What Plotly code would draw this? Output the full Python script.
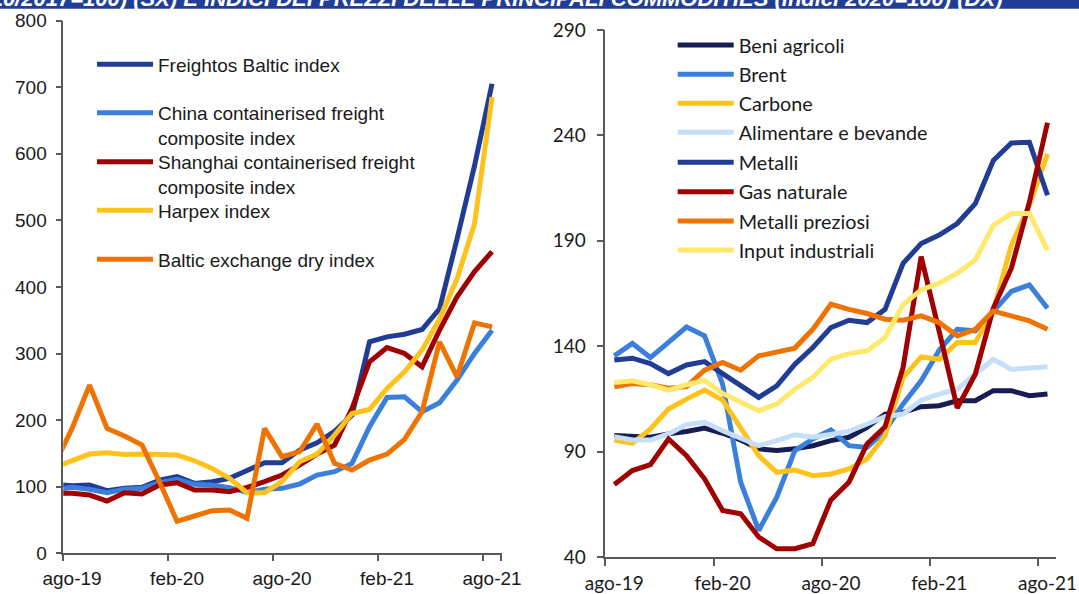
import plotly.graph_objects as go

W, H = 1079, 594

# ---------------- data (left: freight indices, right: commodity price indices)
months_sx = ["lug-19", "ago-19", "set-19", "ott-19", "nov-19", "dic-19", "gen-20", "feb-20", "mar-20",
             "apr-20", "mag-20", "giu-20", "lug-20", "ago-20", "set-20", "ott-20", "nov-20", "dic-20",
             "gen-21", "feb-21", "mar-21", "apr-21", "mag-21", "giu-21", "lug-21", "ago-21"]
months_dx = months_sx[1:]
tick_labels = ["ago-19", "feb-20", "ago-20", "feb-21", "ago-21"]

freightos = [103.5, 101.5, 102.5, 94, 97.5, 99, 110, 115, 105, 107.5, 112.5, 125, 136, 136, 155, 166,
             183, 207.5, 317.5, 325, 329, 336, 367, 472, 582, 705]
china = [96, 99, 96, 91, 96, 97.5, 106, 111, 103.5, 102.5, 98.5, 91.5, 96, 97.5, 104, 117.5, 122.5,
         135, 190, 234, 235, 212.5, 226, 260, 300, 335]
shanghai = [90, 90, 87.5, 78.5, 91, 89, 102.5, 106, 95, 95, 92.5, 99, 107.5, 117.5, 132.5, 149, 162.5,
            217.5, 287.5, 309, 300, 280, 335, 385, 423, 453]
harpex = [129, 139, 149, 151, 148.5, 149, 148.5, 147.5, 139, 127.5, 112.5, 91, 91, 107.5, 137.5, 149,
          177.5, 210, 216, 247.5, 272.5, 305, 352, 412, 495, 685]
baltic = [133, 187.5, 252.5, 187.5, 176, 162.5, 107, 48, 56, 64, 65, 52.5, 187.5, 145, 152.5, 194,
          135, 125, 140, 149, 171, 212.5, 317.5, 265, 346, 340]

beni = [97.6, 97.1, 96.8, 98.4, 99.5, 101.2, 98.7, 95.5, 91.3, 90.5, 91.3, 92.8, 95.2, 96.8, 101.5,
        107.8, 108.6, 111.3, 111.8, 114.1, 114.1, 118.9, 118.9, 116.5, 117.3]
brent = [135.4, 141.3, 134.6, 141.7, 149.1, 144.9, 122, 75.5, 52.6, 68.4, 90.5, 96, 100.3, 92.8, 92,
         99.9, 112.6, 123.6, 138.1, 148, 147.3, 156.5, 166, 169.1, 158]
carbone = [95.5, 93.9, 100.7, 110.2, 114.9, 119.2, 114.4, 101.5, 88.1, 80.2, 81.3, 78.6, 79.4, 81.8,
           86.5, 97.6, 125.2, 134.9, 133.8, 141.7, 141.7, 157, 188, 206.8, 231.2]
alimentare = [97.1, 95.5, 95.5, 98.4, 102.8, 103.9, 99.9, 96.5, 92.8, 95.2, 98, 96.8, 98.4, 99.6,
              103.1, 106.6, 107.8, 114.4, 117.3, 119.6, 126.7, 133.8, 129, 129.5, 130.2]
metalli = [133.4, 134.3, 131.8, 127, 131.1, 132.7, 127, 121.2, 115.7, 121.2, 131.4, 139.4, 148.8,
           152.3, 151.2, 157.5, 179.3, 188.7, 192.7, 198.2, 207.6, 228.1, 236.4, 236.7, 211.6]
gas = [74.4, 81, 83.8, 96, 88.1, 77.1, 62.1, 60.5, 49.5, 43.9, 43.9, 46.3, 67.1, 75.5, 93.6, 101.8,
       129.9, 182.5, 147, 110.7, 126.7, 158, 177, 208.4, 246]
preziosi = [120.8, 122.3, 121.7, 120.1, 120.8, 128.6, 132.3, 128.6, 135.4, 137.5, 139.1, 148, 159.9,
            157.5, 155.5, 152.8, 152.3, 154.4, 151.2, 144.9, 148, 156.7, 154.4, 152, 148]
input_ind = [122.8, 123.6, 121.7, 119.2, 121.7, 123.8, 117.6, 113.3, 109.4, 112.6, 119.6, 125.2, 133.8,
             136.5, 137.8, 144.1, 159.7, 166.7, 169.9, 174.6, 180.9, 197.4, 202.9, 202.9, 185.6]

title_text = ("INDICI DEI NOLI MARITTIMI (10/2017=100) (SX) E INDICI DEI PREZZI DELLE PRINCIPALI "
              "COMMODITIES (indici 2020=100) (DX)")

# ---------------- styles
C_DBLUE = "#203C95"
C_LBLUE = "#3A7FDB"
C_RED = "#A00000"
C_GOLD = "#FFC21C"
C_ORANGE = "#EF7300"
C_NAVY = "#171D52"
C_PALEBLUE = "#C5DFF9"
C_PALEYEL = "#FFE96C"
AX = "#595959"
TXT = "#1a1a1a"
FL = "Liberation Sans"
FR = "Lato"
FSL = 19
FSR = 19
FSR_LEG = 19.8
LW = 5
IW = 56  # legend item width

left_series = [
    ("Freightos Baltic index", freightos, C_DBLUE, 64.3),
    ("China containerised freight<br>composite index", china, C_LBLUE, 112.7),
    ("Shanghai containerised freight<br>composite index", shanghai, C_RED, 161.7),
    ("Harpex index", harpex, C_GOLD, 210.3),
    ("Baltic exchange dry index", baltic, C_ORANGE, 259.3),
]
right_series = [
    ("Beni agricoli", beni, C_NAVY, 45.0),
    ("Brent", brent, C_LBLUE, 74.3),
    ("Carbone", carbone, C_GOLD, 103.3),
    ("Alimentare e bevande", alimentare, C_PALEBLUE, 132.3),
    ("Metalli", metalli, C_DBLUE, 162.3),
    ("Gas naturale", gas, C_RED, 191.7),
    ("Metalli preziosi", preziosi, C_ORANGE, 221.0),
    ("Input industriali", input_ind, C_PALEYEL, 250.0),
]

fig = go.Figure()
layout_legends = {}
k = 0


def legend_cfg(text_x_px, center_px, fs, family, two_lines):
    top_px = center_px - (0.65 * fs + 6.5)
    return dict(x=(text_x_px - (IW + 10)) / W, xanchor="left", y=1 - top_px / H, yanchor="top",
                bgcolor="rgba(0,0,0,0)", borderwidth=0, itemwidth=IW,
                valign="top" if two_lines else "middle",
                font=dict(family=family, size=fs, color=TXT))


for name, vals, col, cy in left_series:
    k += 1
    lname = "legend" if k == 1 else f"legend{k}"
    fig.add_trace(go.Scatter(x=months_sx, y=vals, name=name, mode="lines",
                             line=dict(color=col, width=LW), xaxis="x", yaxis="y",
                             legend=lname, showlegend=True))
    layout_legends[lname] = legend_cfg(158, cy, FSL, FL, "<br>" in name)

for name, vals, col, cy in right_series:
    k += 1
    lname = f"legend{k}"
    fig.add_trace(go.Scatter(x=months_dx, y=vals, name=name, mode="lines",
                             line=dict(color=col, width=LW), xaxis="x2", yaxis="y2",
                             legend=lname, showlegend=True))
    layout_legends[lname] = legend_cfg(738.7, cy, FSR_LEG, FR, False)

axis_common = dict(showgrid=False, zeroline=False, showline=True, linecolor=AX, linewidth=1.5,
                   ticks="outside", tickcolor=AX, tickwidth=1.5, automargin=False)

fig.update_layout(
    width=W, height=H,
    margin=dict(l=0, r=0, t=0, b=0),
    paper_bgcolor="white", plot_bgcolor="white",
    xaxis=dict(**axis_common, type="category", categoryorder="array", categoryarray=months_sx,
               domain=[63.3 / W, 502 / W], range=[0.5, 25.57], tickmode="array",
               tickvals=tick_labels, tickson="boundaries", ticklen=6, tickangle=0,
               ticklabelstandoff=7,
               tickfont=dict(family=FL, size=FSL, color=TXT), anchor="y"),
    yaxis=dict(**axis_common, domain=[1 - 553.3 / H, 1 - 20.5 / H], range=[0, 800],
               tick0=0, dtick=100, ticklabelstandoff=5,
               ticklen=6, tickfont=dict(family=FL, size=FSL, color=TXT), anchor="x"),
    xaxis2=dict(**axis_common, type="category", categoryorder="array", categoryarray=months_dx,
                domain=[605.3 / W, 1055.6 / W], range=[-0.5, 24.45], tickmode="array",
                tickvals=tick_labels, tickson="boundaries", ticklen=7, tickangle=0,
                ticklabelstandoff=8,
                tickfont=dict(family=FR, size=FSR, color=TXT), anchor="y2"),
    yaxis2=dict(**axis_common, domain=[1 - 557 / H, 1 - 30 / H], range=[40, 290],
                tick0=40, dtick=50, ticklabelstandoff=7,
                ticklen=7, tickfont=dict(family=FR, size=FSR, color=TXT), anchor="x2"),
    shapes=[dict(type="rect", xref="paper", yref="paper", x0=0, x1=1, y0=1 - 8.7 / H, y1=1,
                 fillcolor="#213E97", line=dict(width=0), layer="above")],
    annotations=[dict(text="<b><i>" + title_text + "</i></b>", xref="paper", yref="paper",
                      x=1004 / W, xanchor="right", y=1 - 13 / H, yanchor="bottom",
                      showarrow=False, font=dict(family=FL, size=22, color="white"))],
    **layout_legends,
)

fig.write_html("out.html", config={"displayModeBar": False},
               post_script="document.body.style.margin='0';")
